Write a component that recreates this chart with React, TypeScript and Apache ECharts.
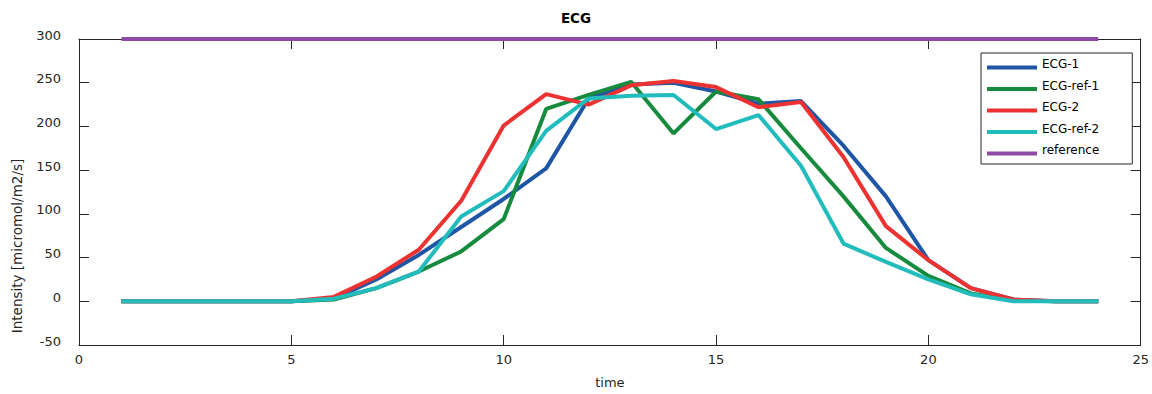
import React, { useEffect, useRef } from "react";
import * as echarts from "echarts";

const times = [1, 2, 3, 4, 5, 6, 7, 8, 9, 10, 11, 12, 13, 14, 15, 16, 17, 18, 19, 20, 21, 22, 23, 24];
const ecg1 = [0, 0, 0, 0, 0, 3, 25, 53, 85, 117, 152, 232, 248, 250, 240, 226, 229, 178, 120, 47, 15, 2, 0, 0];
const ecgRef1 = [0, 0, 0, 0, 0, 2, 15, 34, 57, 94, 220, 236, 251, 192, 240, 231, 175, 120, 61, 29, 9, 1, 0, 0];
const ecg2 = [0, 0, 0, 0, 0, 5, 28, 59, 115, 201, 237, 225, 247, 252, 245, 222, 228, 165, 86, 47, 15, 2, 0, 0];
const ecgRef2 = [0, 0, 0, 0, 0, 3, 15, 34, 97, 126, 195, 232, 235, 236, 197, 213, 155, 66, 45, 25, 8, 0, 0, 0];
const referenceVals = [300, 300, 300, 300, 300, 300, 300, 300, 300, 300, 300, 300, 300, 300, 300, 300, 300, 300, 300, 300, 300, 300, 300, 300];

const seriesNames = ["ECG-1", "ECG-ref-1", "ECG-2", "ECG-ref-2", "reference"];
const seriesValues = [ecg1, ecgRef1, ecg2, ecgRef2, referenceVals];
const seriesColors = ["#1f55a5", "#168b3e", "#ee3231", "#21bcbb", "#8e4aa6"];

const FONT = "DejaVu Sans";

export default function App() {
  const ref = useRef<HTMLDivElement>(null);
  useEffect(() => {
    if (!ref.current) return;
    const chart = echarts.init(ref.current, undefined, { renderer: "svg" });
    const axisColor = "#262626";
    chart.setOption({
      animation: false,
      backgroundColor: "#ffffff",
      title: {
        text: "ECG",
        left: "center",
        top: 6,
        textStyle: { fontFamily: FONT, fontSize: 13.5, fontWeight: "bold", color: "#000" },
      },
      grid: { left: 79, right: 6, top: 39, bottom: 44, containLabel: false },
      legend: {
        orient: "vertical",
        left: 981,
        top: 53,
        padding: [4, 33, 7, 6],
        borderColor: "#262626",
        borderWidth: 1,
        backgroundColor: "#fff",
        icon: "path://M0,0 M0,7 L50,7 L50,11 L0,11 Z",
        itemWidth: 50,
        itemHeight: 11,
        itemGap: 7.5,
        data: seriesNames,
        textStyle: { fontFamily: FONT, fontSize: 12, color: "#000", lineHeight: 14 },
      },
      xAxis: [
        {
          type: "value",
          min: 0,
          max: 25,
          interval: 5,
          name: "time",
          nameLocation: "middle",
          nameGap: 31,
          nameTextStyle: { fontFamily: FONT, fontSize: 13, color: "#262626" },
          axisLine: { show: true, onZero: false, lineStyle: { color: axisColor } },
          axisTick: { show: true, inside: true, length: 10, lineStyle: { color: axisColor } },
          axisLabel: { fontFamily: FONT, fontSize: 13, color: "#262626", margin: 8 },
          splitLine: { show: false },
        },
        {
          type: "value",
          position: "top",
          min: 0,
          max: 25,
          interval: 5,
          axisLine: { show: true, onZero: false, lineStyle: { color: axisColor } },
          axisTick: { show: true, inside: true, length: 10, lineStyle: { color: axisColor } },
          axisLabel: { show: false },
          splitLine: { show: false },
        },
      ],
      yAxis: [
        {
          type: "value",
          min: -50,
          max: 300,
          interval: 50,
          axisLine: { show: true, onZero: false, lineStyle: { color: axisColor } },
          axisTick: { show: true, inside: true, length: 10, lineStyle: { color: axisColor } },
          axisLabel: { fontFamily: FONT, fontSize: 13, color: "#262626", margin: 18, verticalAlign: "bottom", lineHeight: 8 },
          splitLine: { show: false },
        },
        {
          type: "value",
          position: "right",
          min: -50,
          max: 300,
          interval: 50,
          axisLine: { show: true, onZero: false, lineStyle: { color: axisColor } },
          axisTick: { show: true, inside: true, length: 10, lineStyle: { color: axisColor } },
          axisLabel: { show: false },
          splitLine: { show: false },
        },
      ],
      graphic: [
        {
          type: "text",
          x: 17,
          y: 246,
          rotation: Math.PI / 2,
          style: {
            text: "Intensity [micromol/m2/s]",
            fontFamily: FONT,
            fontSize: 13.5,
            fill: "#262626",
            textAlign: "center",
            textVerticalAlign: "middle",
          },
        },
      ],
      series: seriesNames.map((name, i) => ({
        name,
        type: "line",
        xAxisIndex: 0,
        yAxisIndex: 0,
        data: times.map((t, j) => [t, seriesValues[i][j]]),
        symbol: "none",
        showSymbol: false,
        clip: false,
        lineStyle: { width: 4, color: seriesColors[i] },
        itemStyle: { color: seriesColors[i] },
        z: 3,
      })),
    });
    return () => chart.dispose();
  }, []);
  return <div ref={ref} style={{ position: "fixed", left: 0, top: 0, width: 1152, height: 394 }} />;
}
